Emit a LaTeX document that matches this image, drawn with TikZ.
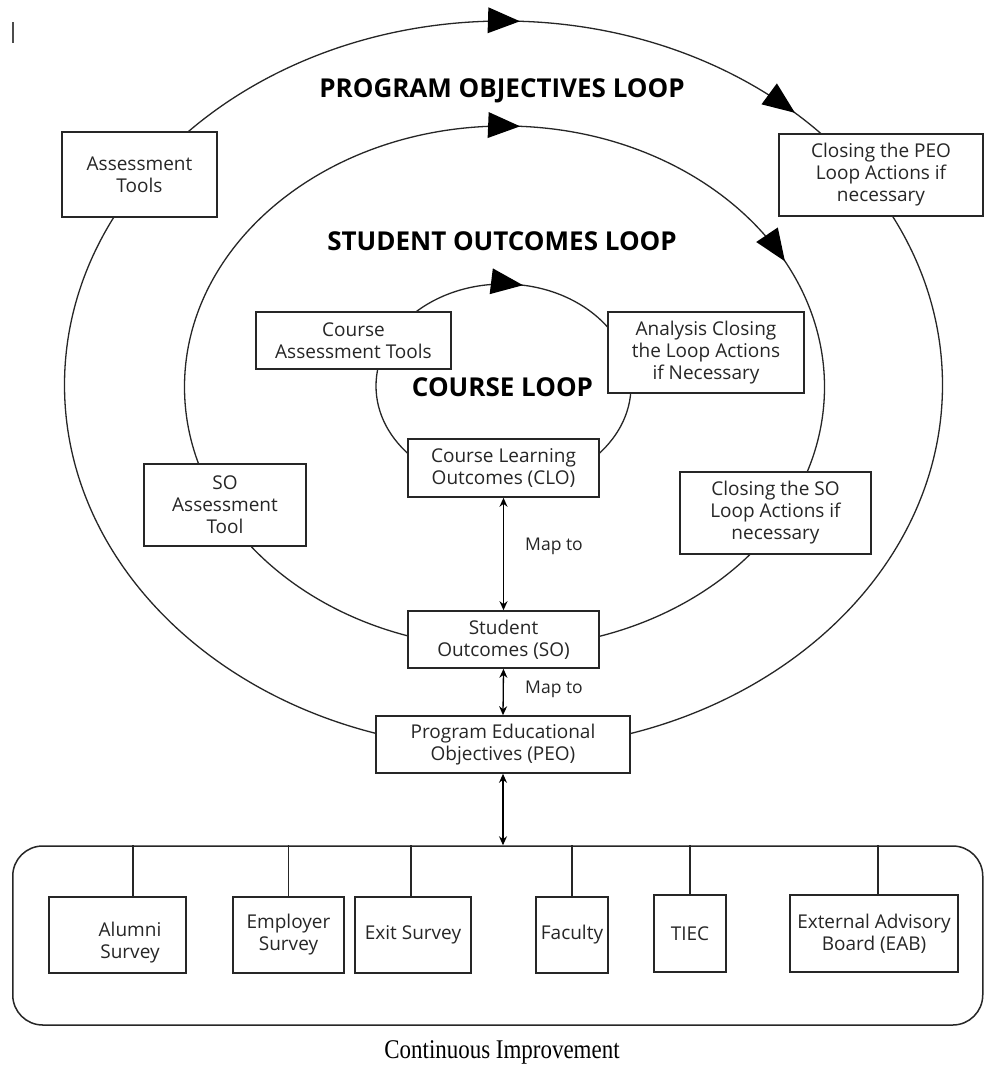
\documentclass[tikz,border=0pt]{standalone}
\usepackage{fontspec}
\newfontfamily\osans{Open Sans}
\newfontfamily\tnr{Liberation Serif}
\usetikzlibrary{arrows.meta,calc}
\tikzset{
  loopline/.style={draw=black!85, line width=1.3pt},
  bbox/.style={draw=black!85, line width=1.6pt, fill=white, inner sep=0pt, align=center,
    font=\osans\fontsize{19}{22}\selectfont, text=black!85},
  btext/.style={inner sep=0pt, align=center, font=\osans\fontsize{19}{22}\selectfont, text=black!85},
  ttl/.style={inner sep=0pt, font=\osans\bfseries\fontsize{26}{30}\selectfont, text=black},
  maplbl/.style={inner sep=0pt, font=\osans\fontsize{17.5}{20}\selectfont, text=black!85},
  mapar/.style={draw=black, line width=1.3pt, {Stealth[length=9pt,width=8pt]}-{Stealth[length=9pt,width=8pt]}},
}
% cx cy rx ry t : filled arrowhead on an ellipse, pointing clockwise
\newcommand\looparrow[5]{%
  \pgfmathsetmacro\lpx{#1+#3*cos(#5)}%
  \pgfmathsetmacro\lpy{#2-#4*sin(#5)}%
  \pgfmathsetmacro\lpa{atan2(-#4*cos(#5),#3*sin(#5))}%
  \fill[black, shift={(\lpx,\lpy)}, rotate=\lpa] (0,0) -- (-32,13) -- (-32,-13) -- cycle;}
\begin{document}
\begin{tikzpicture}[x=1pt,y=-1pt]
\useasboundingbox (0,0) rectangle (984,1072);
\fill[white] (0,0) rectangle (984,1072);

% stray mark
\draw[black!70, line width=1.3pt] (13,22) -- (13,43);

% loops
\draw[loopline] (503.5,385) ellipse [x radius=439pt, y radius=364pt];
\draw[loopline] (504.5,387) ellipse [x radius=320pt, y radius=261pt];
\draw[loopline] (503.5,386) ellipse [x radius=127.5pt, y radius=102pt];

\looparrow{503.5}{385}{439}{364}{87.85}
\looparrow{503.5}{385}{439}{364}{48.4}
\looparrow{504.5}{387}{320}{261}{87.2}
\looparrow{504.5}{387}{320}{261}{28.8}
\looparrow{503.5}{386}{127.5}{102}{81.2}

% titles
\node[ttl] (t1) at (502,91) {PROGRAM OBJECTIVES LOOP};
\node[ttl] (t2) at (502,241) {STUDENT OUTCOMES LOOP};
\node[ttl] (t3) at (502.5,387) {COURSE LOOP};

% boxes on loops
\node[bbox, minimum width=155pt, minimum height=85pt] (at) at (139.5,174.5) {Assessment\\Tools};
\node[bbox, minimum width=204pt, minimum height=82pt] (cpeo) at (881,175) {Closing the PEO\\Loop Actions if\\necessary};
\node[bbox, minimum width=195pt, minimum height=57pt] (cat) at (353.5,340.5) {Course\\Assessment Tools};
\node[bbox, minimum width=196pt, minimum height=81pt] (ana) at (706,352.5) {Analysis Closing\\the Loop Actions\\if Necessary};
\node[bbox, minimum width=191pt, minimum height=58pt] (clo) at (503.5,468) {Course Learning\\Outcomes (CLO)};
\node[bbox, minimum width=162pt, minimum height=82pt] (soat) at (225,505) {SO\\Assessment\\Tool};
\node[bbox, minimum width=191pt, minimum height=82pt] (cso) at (775.5,513) {Closing the SO\\Loop Actions if\\necessary};
\node[bbox, minimum width=191pt, minimum height=57pt] (so) at (503.5,639.5) {Student\\Outcomes (SO)};
\node[bbox, minimum width=254pt, minimum height=57pt] (peo) at (503,744.5) {Program Educational\\Objectives (PEO)};

% map arrows
\draw[mapar] (clo.south) -- (so.north);
\draw[mapar] (so.south) -- (peo.north);
\node[maplbl] (m1) at (554,546) {Map to};
\node[maplbl] (m2) at (554,689) {Map to};

% bottom group
\node[draw=black!85, line width=1.5pt, rounded corners=30pt, minimum width=970pt, minimum height=179pt, inner sep=0pt] (bar) at (497.75,935.5) {};
\draw[mapar] (peo.south) -- (peo.south |- bar.north);

\node[bbox, minimum width=137pt, minimum height=76pt] (alumni) at (117.5,935) {};
\node[btext] (alumnit) at (130,943) {Alumni\\Survey};
\node[bbox, minimum width=111pt, minimum height=76pt] (employer) at (288.5,935) {Employer\\Survey};
\node[bbox, minimum width=116pt, minimum height=76pt] (exit) at (413,935) {Exit Survey};
\node[bbox, minimum width=72pt, minimum height=76pt] (faculty) at (572,935) {Faculty};
\node[bbox, minimum width=72pt, minimum height=77pt] (tiec) at (690,933.5) {TIEC};
\node[bbox, minimum width=168pt, minimum height=77pt] (eab) at (874,933.5) {External Advisory\\Board (EAB)};

\draw[loopline] ([xshift=15.5pt]alumni.north) -- ([xshift=15.5pt]alumni.north |- bar.north);
\draw[loopline] (employer.north) -- (employer.north |- bar.north);
\draw[loopline] ([xshift=-2pt]exit.north) -- ([xshift=-2pt]exit.north |- bar.north);
\draw[loopline] (faculty.north) -- (faculty.north |- bar.north);
\draw[loopline] (tiec.north) -- (tiec.north |- bar.north);
\draw[loopline] ([xshift=4pt]eab.north) -- ([xshift=4pt]eab.north |- bar.north);

\node[inner sep=0pt, font=\tnr\fontsize{27}{30}\selectfont] (ci) at (502,1052) {\scalebox{0.85}[1]{Continuous Improvement}};
\end{tikzpicture}
\end{document}
